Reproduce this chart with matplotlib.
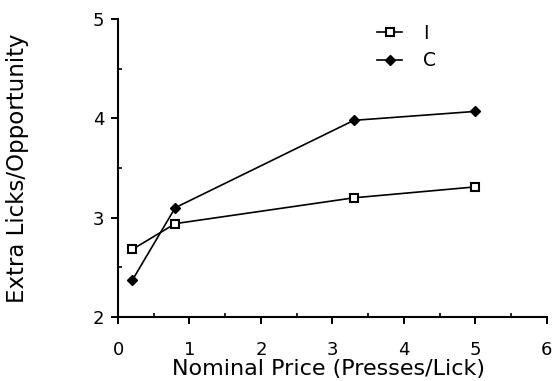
import matplotlib
matplotlib.use('Agg')
import matplotlib.pyplot as plt
from matplotlib.ticker import MultipleLocator

price = [0.2, 0.8, 3.3, 5.0]
licks_i = [2.68, 2.94, 3.20, 3.31]
licks_c = [2.37, 3.10, 3.98, 4.07]

fig = plt.figure(figsize=(5.54, 3.81), dpi=100)
ax = fig.add_axes([0.213, 0.168, 0.774, 0.782])

ax.plot(price, licks_i, color='black', lw=1.2, marker='s', ms=5.5,
        mfc='white', mec='black', mew=1.5, label='I')
ax.plot(price, licks_c, color='black', lw=1.2, marker='D', ms=5,
        mfc='black', mec='black', label='C')

ax.set_xlim(0, 6)
ax.set_ylim(2, 5)
ax.xaxis.set_major_locator(MultipleLocator(1))
ax.xaxis.set_minor_locator(MultipleLocator(0.5))
ax.yaxis.set_major_locator(MultipleLocator(1))
ax.yaxis.set_minor_locator(MultipleLocator(0.5))
ax.tick_params(which='major', direction='out', length=5, width=1.4, labelsize=13)
ax.tick_params(which='minor', direction='in', length=3, width=1.2)
ax.tick_params(axis='x', which='major', pad=12)
ax.tick_params(axis='y', which='major', pad=5)
for s in ['top', 'right']:
    ax.spines[s].set_visible(False)
for s in ['left', 'bottom']:
    ax.spines[s].set_linewidth(1.5)

ax.set_xlabel('Nominal Price (Presses/Lick)', fontsize=16)
ax.xaxis.set_label_coords(0.492, -0.14)
ax.set_ylabel('Extra Licks/Opportunity', fontsize=16.5)
ax.yaxis.set_label_coords(-0.208, 0.5)

ax.legend(loc='upper left', bbox_to_anchor=(0.565, 1.04), frameon=False,
          fontsize=13.5, handlelength=1.35, handletextpad=1.1, labelspacing=0.45)

fig.savefig('out.png', dpi=100)
